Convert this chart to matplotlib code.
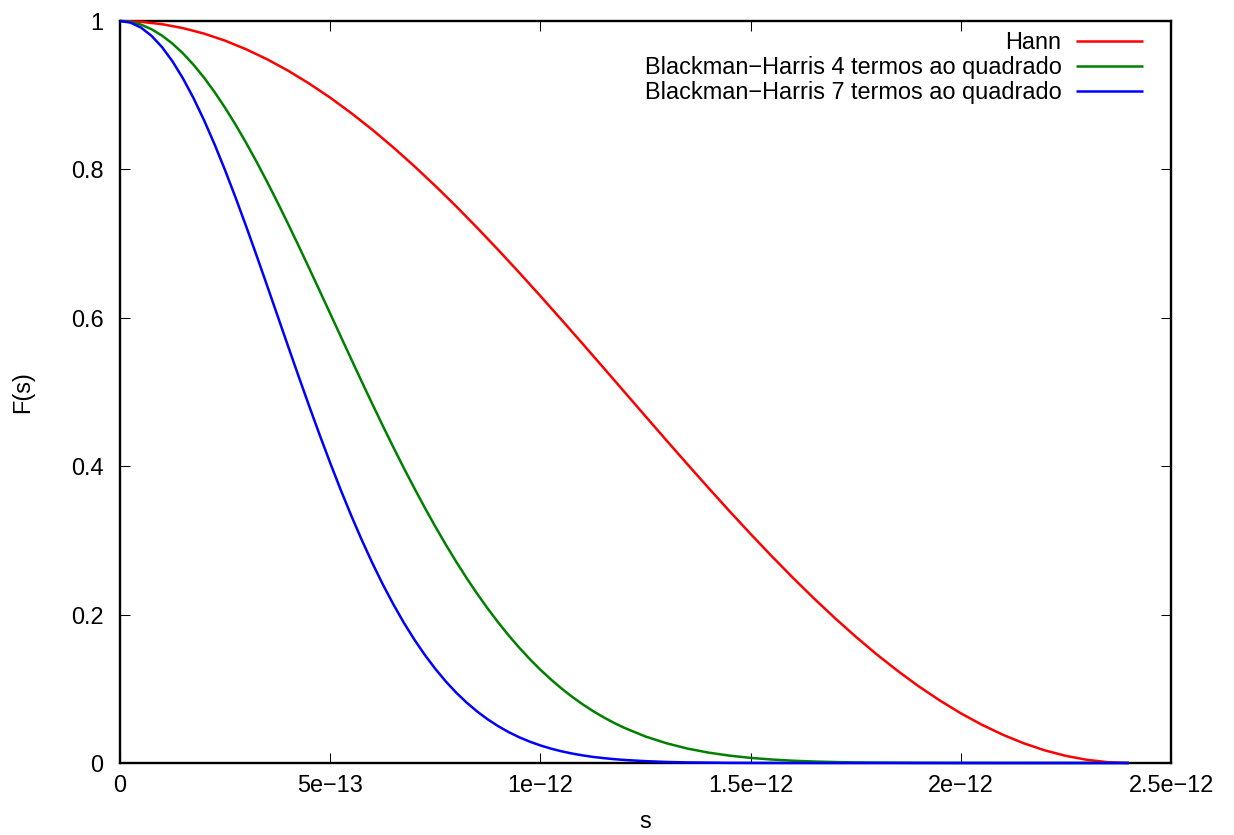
import matplotlib
matplotlib.use('Agg')
import matplotlib.pyplot as plt
import numpy as np

plt.rcParams['font.family'] = ['Liberation Sans', 'DejaVu Sans']

# s values (in units of 1e-12) for the Hann curve
s_hann = [0.0, 0.05, 0.1, 0.15, 0.2, 0.25, 0.3, 0.35, 0.4, 0.45, 0.5, 0.55,
          0.6, 0.65, 0.7, 0.75, 0.8, 0.85, 0.9, 0.95, 1.0, 1.05, 1.1, 1.15,
          1.2, 1.25, 1.3, 1.35, 1.4, 1.45, 1.5, 1.55, 1.6, 1.65, 1.7, 1.75,
          1.8, 1.85, 1.9, 1.95, 2.0, 2.05, 2.1, 2.15, 2.2, 2.25, 2.3, 2.35, 2.4]
hann = [1.0, 0.9989, 0.9957, 0.9904, 0.9830, 0.9735, 0.9619, 0.9484, 0.9330,
        0.9157, 0.8967, 0.8759, 0.8536, 0.8297, 0.8044, 0.7778, 0.7500, 0.7211,
        0.6913, 0.6607, 0.6294, 0.5975, 0.5653, 0.5327, 0.5000, 0.4673, 0.4347,
        0.4025, 0.3706, 0.3393, 0.3087, 0.2789, 0.2500, 0.2222, 0.1956, 0.1703,
        0.1464, 0.1241, 0.1033, 0.0843, 0.0670, 0.0516, 0.0381, 0.0265, 0.0170,
        0.0096, 0.0043, 0.0011, 0.0]

# s values (in units of 1e-12) for the Blackman-Harris curves
s_bh = [0.0, 0.025, 0.05, 0.075, 0.1, 0.125, 0.15, 0.175, 0.2, 0.225, 0.25,
        0.275, 0.3, 0.325, 0.35, 0.375, 0.4, 0.425, 0.45, 0.475, 0.5, 0.525,
        0.55, 0.575, 0.6, 0.625, 0.65, 0.675, 0.7, 0.725, 0.75, 0.775, 0.8,
        0.825, 0.85, 0.875, 0.9, 0.925, 0.95, 0.975, 1.0, 1.025, 1.05, 1.075,
        1.1, 1.125, 1.15, 1.175, 1.2,
        1.25, 1.3, 1.35, 1.4, 1.45, 1.5, 1.55, 1.6, 1.65, 1.7, 1.75,
        1.8, 1.9, 2.0, 2.1, 2.2, 2.3, 2.4]
bh4 = [1.0, 0.9988, 0.9951, 0.9889, 0.9803, 0.9694, 0.9563, 0.9409, 0.9236,
       0.9042, 0.8830, 0.8602, 0.8358, 0.8101, 0.7832, 0.7552, 0.7264, 0.6968,
       0.6667, 0.6363, 0.6057, 0.5750, 0.5444, 0.5140, 0.4841, 0.4546, 0.4258,
       0.3977, 0.3705, 0.3441, 0.3187, 0.2943, 0.2710, 0.2488, 0.2278, 0.2079,
       0.1892, 0.1716, 0.1552, 0.1399, 0.1257, 0.1126, 0.1005, 0.0894, 0.0793,
       0.0700, 0.0617, 0.0541, 0.0473,
       0.0357, 0.0266, 0.0194, 0.0140, 0.0099, 0.0069, 0.0047, 0.0031, 0.0020,
       0.0013, 0.0008,
       0.0005, 0.00015, 0.00004, 0.00001, 0.0, 0.0, 0.0]
bh7 = [1.0, 0.9978, 0.9911, 0.9800, 0.9648, 0.9455, 0.9224, 0.8959, 0.8662,
       0.8337, 0.7988, 0.7619, 0.7234, 0.6837, 0.6432, 0.6023, 0.5614, 0.5209,
       0.4810, 0.4421, 0.4044, 0.3681, 0.3335, 0.3007, 0.2698, 0.2409, 0.2141,
       0.1892, 0.1665, 0.1457, 0.1269, 0.1099, 0.0947, 0.0812, 0.0692, 0.0587,
       0.0495, 0.0415, 0.0346, 0.0287, 0.0237, 0.0194, 0.0158, 0.0128, 0.0103,
       0.0082, 0.0066, 0.0052, 0.0041,
       0.0025, 0.0014, 0.0008, 0.0005, 0.0002, 0.0001, 0.00005, 0.00003, 0.0,
       0.0, 0.0,
       0.0, 0.0, 0.0, 0.0, 0.0, 0.0, 0.0]

labels = ['Hann',
          'Blackman\u2212Harris 4 termos ao quadrado',
          'Blackman\u2212Harris 7 termos ao quadrado']
colors = ['#ff0000', '#008000', '#0000ff']

xticks = [0.0, 0.5e-12, 1.0e-12, 1.5e-12, 2.0e-12, 2.5e-12]
xticklabels = ['0', '5e\u221213', '1e\u221212', '1.5e\u221212', '2e\u221212', '2.5e\u221212']
yticks = [0, 0.2, 0.4, 0.6, 0.8, 1]
yticklabels = ['0', '0.2', '0.4', '0.6', '0.8', '1']

fs = 16.9

#%%
fig = plt.figure(figsize=(12.34, 8.35), dpi=100)
ax = fig.add_axes([120/1234, 72/835, 1051/1234, 742/835])

sh = np.array(s_hann)*1e-12
sb = np.array(s_bh)*1e-12
for x, y, lab, c in zip([sh, sb, sb], [hann, bh4, bh7], labels, colors):
    ax.plot(x, y, color=c, lw=1.8, label=lab, clip_on=False, zorder=3,
            solid_joinstyle='round', solid_capstyle='butt')

ax.set_xlim(0, 2.5e-12)
ax.set_ylim(0, 1)
ax.set_xticks(xticks)
ax.set_xticklabels(xticklabels)
ax.set_yticks(yticks)
ax.set_yticklabels(yticklabels)
ax.tick_params(direction='in', length=7.2, width=0.75, top=True, right=True,
               labelsize=fs)
ax.tick_params(axis='x', pad=8)
ax.tick_params(axis='y', pad=12)
for sp in ax.spines.values():
    sp.set_linewidth(1.7)
    sp.set_zorder(2)

ax.set_xlabel('s', fontsize=fs, va='center')
ax.xaxis.set_label_coords(0.5, (763-822)/742)
ax.set_ylabel('F(s)', fontsize=fs, va='center')
ax.yaxis.set_label_coords((23-120)/1051, 0.5)

ax.legend(loc='upper right', bbox_to_anchor=((1143-120)/1051, (763-31)/742),
          frameon=False, markerfirst=False, fontsize=fs, borderpad=0,
          borderaxespad=0, handlelength=2.85, handletextpad=0.62,
          labelspacing=0.08)

plt.savefig('out.png', dpi=100)
